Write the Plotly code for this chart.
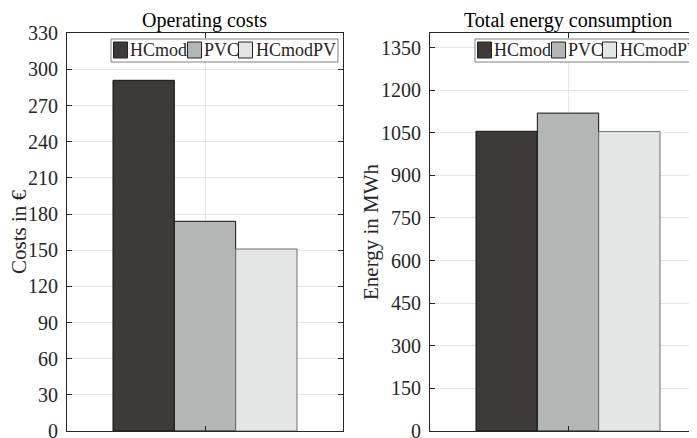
import plotly.graph_objects as go

# ---------------- data ----------------
series_names = ["HCmod", "PVC", "HCmodPV"]
costs = [291, 174, 151]            # Operating costs in €
energy = [1055, 1119, 1054]        # Total energy consumption in MWh
cost_ticks = [0, 30, 60, 90, 120, 150, 180, 210, 240, 270, 300, 330]
energy_ticks = [0, 150, 300, 450, 600, 750, 900, 1050, 1200, 1350]
group_x = [1]

# ---------------- style ----------------
OFF = 8                      # page body margin
W, H = 697 - OFF, 438 - OFF  # figure size so it fills the window
FONT = "Liberation Serif"
TXT = "#262626"
fills = ["#3e3a39", "#b4b6b5", "#e4e6e5"]
edges = ["#111111", "#111111", "#6e6e6e"]


def px(x):
    """screen pixel x -> paper coordinate"""
    return (x - OFF) / W


def py(y):
    """screen pixel y -> paper coordinate"""
    return 1 - (y - OFF) / H


fig = go.Figure()
for i, name in enumerate(series_names):
    fig.add_trace(go.Bar(x=group_x, y=[costs[i]], name=name, xaxis="x", yaxis="y",
                         marker=dict(color=fills[i], line=dict(color=edges[i], width=1)),
                         showlegend=False))
    fig.add_trace(go.Bar(x=group_x, y=[energy[i]], name=name, xaxis="x2", yaxis="y2",
                         marker=dict(color=fills[i], line=dict(color=edges[i], width=1)),
                         showlegend=False))

ydom = [py(431), py(33.3)]
common_x = dict(showticklabels=False, tickvals=group_x, ticks="inside", ticklen=5,
                tickcolor=TXT, showline=True, linecolor=TXT, linewidth=1, automargin=False,
                showgrid=True, gridcolor="#e6e6e6", zeroline=False, mirror="ticks")
common_y = dict(ticks="inside", ticklen=5, tickcolor=TXT, showline=True, linecolor=TXT,
                linewidth=1, showgrid=True, gridcolor="#e6e6e6", zeroline=False,
                automargin=False, ticklabeloverflow="allow",
                tickfont=dict(family=FONT, size=20, color=TXT), ticklabelstandoff=4)

fig.update_layout(
    template="none",
    width=W, height=H,
    margin=dict(l=0, r=0, t=0, b=0, autoexpand=False),
    paper_bgcolor="white", plot_bgcolor="white",
    barmode="group", bargap=1 / 3, bargroupgap=0,
    font=dict(family=FONT, color=TXT),
    xaxis=dict(domain=[px(67), px(343)], range=[0.5, 1.5], anchor="y", **common_x),
    yaxis=dict(domain=ydom, range=[0, 330], tickvals=cost_ticks, anchor="x",
               **{**common_y, "mirror": "ticks"}),
    xaxis2=dict(domain=[px(430), 1.0], range=[0.5, 1.5 - 9 / 276], anchor="y2", **common_x),
    yaxis2=dict(domain=ydom, range=[0, 1400], tickvals=energy_ticks, anchor="x2",
                **{**common_y, "mirror": False}),
)

ann = []
shapes = []
# titles
ann.append(dict(text="Operating costs", x=px(205), y=py(20), xref="paper", yref="paper",
                xanchor="center", yanchor="middle",
                showarrow=False, font=dict(size=20, family=FONT, color="black")))
ann.append(dict(text="Total energy consumption", x=px(568), y=py(20), xref="paper", yref="paper",
                xanchor="center", yanchor="middle",
                showarrow=False, font=dict(size=20, family=FONT, color="black")))
# axis titles
ann.append(dict(text="Costs in €", x=px(19), y=py(232), xref="paper", yref="paper",
                xanchor="center", yanchor="middle",
                textangle=-90, showarrow=False, font=dict(size=21, family=FONT, color=TXT)))
ann.append(dict(text="Energy in MWh", x=px(371), y=py(232), xref="paper", yref="paper",
                xanchor="center", yanchor="middle",
                textangle=-90, showarrow=False, font=dict(size=21, family=FONT, color=TXT)))

# legends (one per panel)
sq_off = [2.5, 76.5, 127.5]
tx_off = [16.5, 90.5, 142.5]
for lx, rx in [(111, 338), (475, 720)]:
    shapes.append(dict(type="rect", xref="paper", yref="paper", x0=px(lx), x1=px(rx),
                       y0=py(62), y1=py(39), line=dict(color="#808080", width=1),
                       fillcolor="white", layer="above"))
    for i, name in enumerate(series_names):
        shapes.append(dict(type="rect", xref="paper", yref="paper",
                           x0=px(lx + sq_off[i]), x1=px(lx + sq_off[i] + 14),
                           y0=py(58), y1=py(42), fillcolor=fills[i],
                           line=dict(color="#222222", width=1), layer="above"))
        ann.append(dict(text=name, x=px(lx + tx_off[i]), y=py(50.5), xref="paper", yref="paper",
                        xanchor="left", yanchor="middle", showarrow=False,
                        font=dict(size=18, family=FONT, color="#262626")))

fig.update_layout(annotations=ann, shapes=shapes)
fig.write_html("out.html")
